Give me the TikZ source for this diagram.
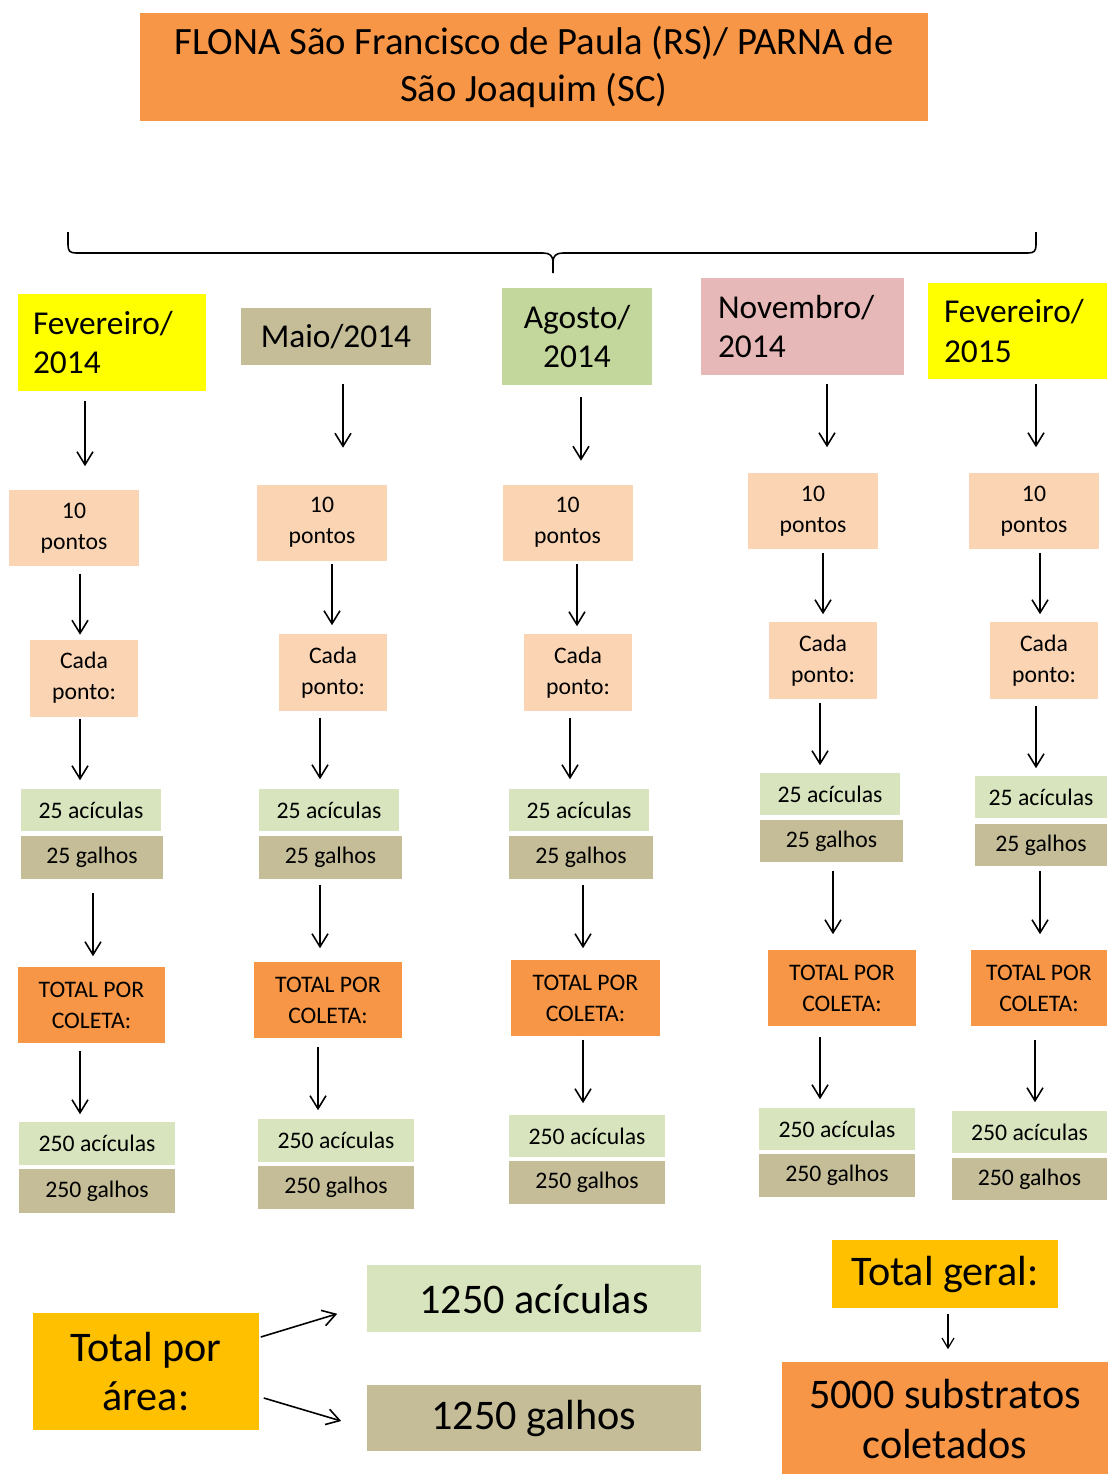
\documentclass[tikz,border=0pt]{standalone}
\usepackage{fontspec}
\setmainfont{Carlito}
\usetikzlibrary{arrows.meta}
\definecolor{laranja}{HTML}{F79646}
\definecolor{pessego}{HTML}{FBD4B4}
\definecolor{verdeclaro}{HTML}{D7E4BD}
\definecolor{caqui}{HTML}{C4BD97}
\definecolor{verde}{HTML}{C3D69B}
\definecolor{rosa}{HTML}{E6B9B8}
\definecolor{amarelo}{HTML}{FFFF00}
\definecolor{ouro}{HTML}{FFC000}
\begin{document}
\begin{tikzpicture}[x=0.02cm, y=-0.02cm, line width=0.9pt,
  caixa/.style={inner sep=0pt, align=center, text=black},
  tam/.style 2 args={minimum width=#1*0.02cm, minimum height=#2*0.02cm},
  mes/.style={caixa, font=\fontsize{19}{22.7}\selectfont},
  peq/.style={caixa, font=\fontsize{13.5}{17.6}\selectfont},
  gde/.style={caixa, font=\fontsize{24}{27.5}\selectfont},
  seta/.style={-{Straight Barb[length=2.6mm,width=3.2mm]}}]
  \useasboundingbox (0,0) rectangle (1107,1474);

  % titulo e chave
  \node[caixa, fill=laranja, tam={788}{108}, font=\fontsize{22}{26.5}\selectfont] (titulo) at (534,67)
    {FLONA São Francisco de Paula (RS)/ PARNA de\\São Joaquim (SC)};
  \draw (68,232) -- (68,245) .. controls (68,251) and (70,253) .. (76,253) -- (543,253)
    .. controls (550,253) and (553,256) .. (553,262) -- (553,273);
  \draw (1036,232) -- (1036,245) .. controls (1036,251) and (1034,253) .. (1028,253) -- (563,253)
    .. controls (556,253) and (553,256) .. (553,262);

  % coletas
  \node[mes, align=left, text width=158*0.02cm, fill=amarelo, tam={188}{97}] (m1) at (112,342.5) {Fevereiro/\\2014};
  \node[mes, fill=caqui, tam={190}{57}] (m2) at (336,336.5) {Maio/2014};
  \node[mes, fill=verde, tam={150}{97}] (m3) at (577,336.5) {Agosto/\\2014};
  \node[mes, align=left, text width=169*0.02cm, fill=rosa, tam={203}{97}] (m4) at (802.5,326.5) {Novembro/\\2014};
  \node[mes, align=left, text width=147*0.02cm, fill=amarelo, tam={179}{96}] (m5) at (1017.5,331) {Fevereiro/\\2015};

  \node[peq, fill=pessego, tam={130}{76}] (p1) at (74,528) {10\\pontos};
  \node[peq, fill=pessego, tam={130}{76}] (p2) at (322,522.5) {10\\pontos};
  \node[peq, fill=pessego, tam={130}{76}] (p3) at (567.5,522.5) {10\\pontos};
  \node[peq, fill=pessego, tam={130}{76}] (p4) at (813,511) {10\\pontos};
  \node[peq, fill=pessego, tam={130}{76}] (p5) at (1034,511) {10\\pontos};

  \node[peq, fill=pessego, tam={108}{77}] (c1) at (84,678) {Cada\\ponto:};
  \node[peq, fill=pessego, tam={108}{77}] (c2) at (333,672.5) {Cada\\ponto:};
  \node[peq, fill=pessego, tam={108}{77}] (c3) at (578,672.5) {Cada\\ponto:};
  \node[peq, fill=pessego, tam={108}{77}] (c4) at (823,660.5) {Cada\\ponto:};
  \node[peq, fill=pessego, tam={108}{77}] (c5) at (1044,660.5) {Cada\\ponto:};

  \node[peq, fill=verdeclaro, tam={140}{42}] (a1) at (91,810) {25 acículas};
  \node[peq, fill=verdeclaro, tam={140}{42}] (a2) at (329,810) {25 acículas};
  \node[peq, fill=verdeclaro, tam={140}{42}] (a3) at (579,810) {25 acículas};
  \node[peq, fill=verdeclaro, tam={140}{42}] (a4) at (830,794) {25 acículas};
  \node[peq, fill=verdeclaro, tam={132}{42}] (a5) at (1041,797) {25 acículas};

  \node[peq, fill=caqui, tam={142}{43}] (g1) at (92,857.5) {25 galhos};
  \node[peq, fill=caqui, tam={143}{43}] (g2) at (330.5,857.5) {25 galhos};
  \node[peq, fill=caqui, tam={144}{43}] (g3) at (581,857.5) {25 galhos};
  \node[peq, fill=caqui, tam={143}{42}] (g4) at (831.5,841) {25 galhos};
  \node[peq, fill=caqui, tam={132}{42}] (g5) at (1041,845) {25 galhos};

  \node[peq, fill=laranja, tam={147}{76}] (t1) at (91.5,1005) {TOTAL POR\\COLETA:};
  \node[peq, fill=laranja, tam={148}{76}] (t2) at (328,1000) {TOTAL POR\\COLETA:};
  \node[peq, fill=laranja, tam={149}{76}] (t3) at (585.5,998) {TOTAL POR\\COLETA:};
  \node[peq, fill=laranja, tam={148}{76}] (t4) at (842,988) {TOTAL POR\\COLETA:};
  \node[peq, fill=laranja, tam={136}{76}] (t5) at (1039,988) {TOTAL POR\\COLETA:};

  \node[peq, fill=verdeclaro, tam={156}{43}] (b1) at (97,1143.5) {250 acículas};
  \node[peq, fill=verdeclaro, tam={156}{43}] (b2) at (336,1140.5) {250 acículas};
  \node[peq, fill=verdeclaro, tam={156}{42}] (b3) at (587,1136) {250 acículas};
  \node[peq, fill=verdeclaro, tam={156}{42}] (b4) at (837,1129) {250 acículas};
  \node[peq, fill=verdeclaro, tam={155}{42}] (b5) at (1029.5,1132) {250 acículas};

  \node[peq, fill=caqui, tam={156}{44}] (h1) at (97,1191) {250 galhos};
  \node[peq, fill=caqui, tam={156}{43}] (h2) at (336,1187.5) {250 galhos};
  \node[peq, fill=caqui, tam={156}{43}] (h3) at (587,1182.5) {250 galhos};
  \node[peq, fill=caqui, tam={156}{43}] (h4) at (837,1175.5) {250 galhos};
  \node[peq, fill=caqui, tam={155}{42}] (h5) at (1029.5,1179) {250 galhos};

  \foreach \de/\para/\xa/\ini/\fim in {m1/p1/85/9/23, m2/p2/343/18/36, m3/p3/581/11/23,
      m4/p4/827/8/25, m5/p5/1036/4/25,
      p1/c1/80/7/4, p2/c2/332/3/8, p3/c3/577/3/7, p4/c4/823/3/7, p5/c5/1040/3/7,
      c1/a1/80/2/8, c2/a2/320/6/9, c3/a3/570/6/9, c4/a4/820/3/7, c5/a5/1036/6/7,
      g1/t1/93/13/10, g2/t2/320/5/13, g3/t3/583/5/11, g4/t4/833/8/15, g5/t5/1040/4/15,
      t1/b1/80/7/7, t2/b2/318/8/8, t3/b3/583/3/11, t4/b4/820/10/8, t5/b5/1035/13/8}
    \draw[seta, shorten <=\ini*0.02cm, shorten >=\fim*0.02cm] (\de.south -| \xa,0) -- (\para.north -| \xa,0);

  % totais
  \node[gde, fill=ouro, tam={226}{117}] (area) at (146,1371.5) {Total por\\área:};
  \node[gde, fill=verdeclaro, tam={334}{67}] (A) at (534,1298.5) {1250 acículas};
  \node[gde, fill=caqui, tam={334}{66}] (G) at (534,1418) {1250 galhos};
  \node[gde, fill=ouro, tam={226}{68}] (geral) at (945,1274) {Total geral:};
  \node[gde, fill=laranja, tam={327}{114}, font=\fontsize{24}{29}\selectfont] (S) at (945,1419) {5000 substratos\\coletados};

  \draw[seta] ([shift={(1,-34.5)}]area.east) -- ([shift={(-29,-19)}]A.south west);
  \draw[seta] ([shift={(4,26.5)}]area.east) -- ([shift={(-25,3)}]G.west);
  \draw[-{Straight Barb[length=2mm,width=2.4mm]}, line width=0.7pt] ([shift={(3,5)}]geral.south) -- ([shift={(3,-12)}]S.north);
\end{tikzpicture}
\end{document}
